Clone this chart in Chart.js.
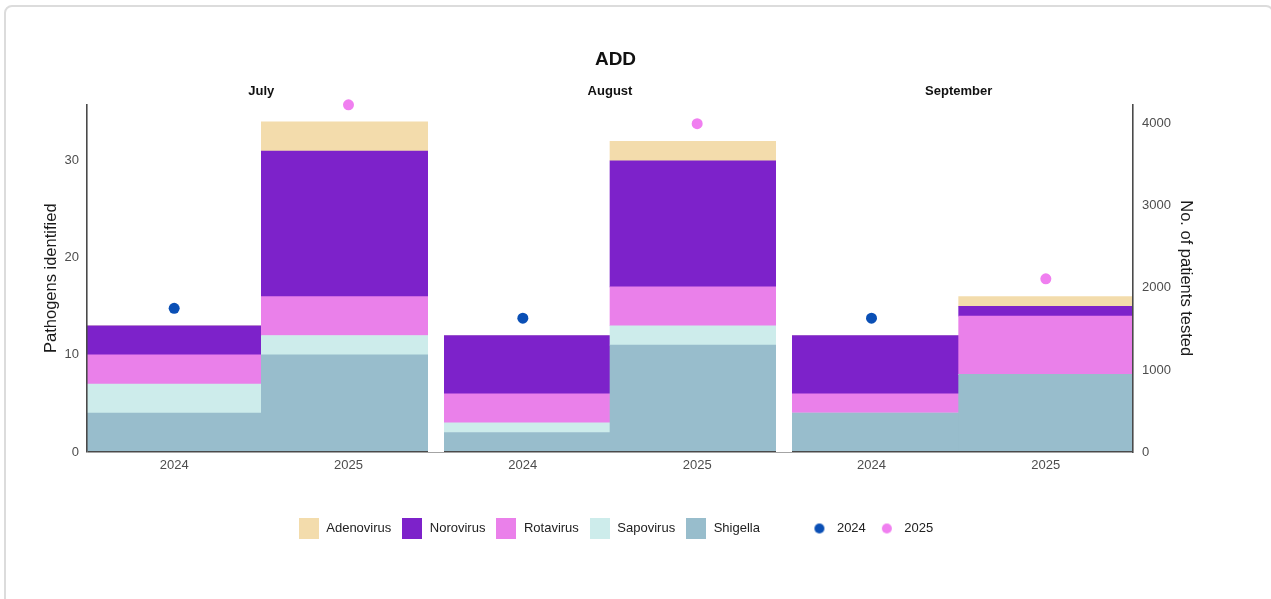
<!DOCTYPE html>
<html>
<head>
<meta charset="utf-8">
<title>ADD</title>
<script src="https://cdn.jsdelivr.net/npm/chart.js@4"></script>
<style>
    html, body { margin: 0; padding: 0; background: #fff; overflow: hidden; }
    .card {
        position: absolute; left: 4px; top: 5px;
        width: 1270px; height: 620px;
        border: 2px solid #dcdcdc; border-radius: 8px;
        box-sizing: border-box;
    }
    .wrap { position: absolute; left: 0; top: 0; width: 1271px; height: 599px; }
    #addChart { display: block; width: 1271px; height: 599px; }
</style>
</head>
<body>
<div class="card"></div>
<div class="wrap"><canvas id="addChart" width="1271" height="599"></canvas></div>
<script>
// --- Data (order of bars: July 2024, July 2025, Aug 2024, Aug 2025, Sep 2024, Sep 2025) ---
const months = ['July', 'August', 'September'];
const years = ['2024', '2025', '2024', '2025', '2024', '2025'];

const adenovirus = [0, 3, 0, 2, 0, 1];
const norovirus  = [3, 15, 6, 13, 6, 1];
const rotavirus  = [3, 4, 3, 4, 2, 6];
const sapovirus  = [3, 2, 1, 2, 0, 0];
const shigella   = [4, 10, 2, 11, 4, 8];

// patients tested, one value per month
const tested2024 = [1750, 1630, 1630];
const tested2025 = [4230, 4000, 2110];

// tick labels
const pathogenTicks = [0, 10, 20, 30];
const patientTicks = [0, 1000, 2000, 3000, 4000];

const colors = {
    adenovirus: '#f3dcac',
    norovirus: '#7d22ca',
    rotavirus: '#ea80ea',
    sapovirus: '#cdeceb',
    shigella: '#98bdcc',
    y2024: '#0a4fb5',
    y2025: '#f07ff0',
    axis: '#4a4a4a',
    tick: '#4d4d4d'
};

const FONT = '"Liberation Sans", Arial, Helvetica, sans-serif';

// spread the monthly values over the year slots
const slot2024 = years.map((y, i) => y === '2024' ? tested2024[Math.floor(i / 2)] : null);
const slot2025 = years.map((y, i) => y === '2025' ? tested2025[Math.floor(i / 2)] : null);

// little legend icons
function boxIcon(color) {
    const c = document.createElement('canvas');
    c.width = 20; c.height = 21;
    const g = c.getContext('2d');
    g.fillStyle = color;
    g.fillRect(0, 0, 20, 21);
    return c;
}
function dotIcon(color) {
    const c = document.createElement('canvas');
    c.width = 12; c.height = 12;
    const g = c.getContext('2d');
    g.fillStyle = color;
    g.beginPath();
    g.arc(6, 6, 5, 0, Math.PI * 2);
    g.fill();
    return c;
}
const blankIcon = document.createElement('canvas');
blankIcon.width = 1; blankIcon.height = 1;

function barSet(label, data, color, order) {
    return {
        type: 'bar',
        label: label,
        data: data,
        backgroundColor: color,
        borderWidth: 0,
        barPercentage: 1,
        categoryPercentage: 1,
        stack: 'pathogens',
        yAxisID: 'y',
        order: order
    };
}
function dotSet(label, data, color) {
    return {
        type: 'line',
        label: label,
        data: data,
        showLine: false,
        backgroundColor: color,
        borderColor: color,
        pointRadius: 5.5,
        pointHoverRadius: 6.5,
        pointBorderWidth: 0,
        yAxisID: 'y1',
        clip: false,
        order: 0
    };
}

const ctx = document.getElementById('addChart').getContext('2d');

new Chart(ctx, {
    data: {
        labels: years,
        datasets: [
            barSet('Adenovirus', adenovirus, colors.adenovirus, 5),
            barSet('Norovirus', norovirus, colors.norovirus, 4),
            barSet('Rotavirus', rotavirus, colors.rotavirus, 3),
            barSet('Sapovirus', sapovirus, colors.sapovirus, 2),
            barSet('Shigella', shigella, colors.shigella, 1),
            dotSet('2024', slot2024, colors.y2024),
            dotSet('2025', slot2025, colors.y2025)
        ]
    },
    options: {
        responsive: false,
        animation: false,
        layout: { padding: { top: 37, left: 30, right: 70, bottom: 54 } },
        font: { family: FONT },
        scales: {
            x: {
                type: 'category',
                position: 'bottom',
                stacked: true,
                offset: true,
                // white gaps between the month panels, drawn over the bars
                grid: {
                    display: true,
                    drawTicks: false,
                    offset: true,
                    color: '#ffffff',
                    lineWidth: (c) => (c.index === 2 || c.index === 4) ? 16 : 0,
                    z: 2
                },
                border: { display: false },
                ticks: { color: colors.tick, font: { family: FONT, size: 13 }, padding: 6, maxRotation: 0 },
                afterFit: (scale) => { scale.height = 60; }
            },
            xTop: {
                type: 'category',
                position: 'top',
                labels: months,
                offset: true,
                grid: { display: false, drawTicks: false },
                border: { display: false },
                ticks: { color: '#111', font: { family: FONT, size: 13, weight: 'bold' }, padding: 5, maxRotation: 0 }
            },
            y: {
                type: 'linear',
                position: 'left',
                stacked: true,
                min: 0,
                max: 35.8,
                // only the zero line is drawn: it is the bottom axis line
                grid: {
                    display: true,
                    drawTicks: false,
                    color: (c) => c.tick && c.tick.value === 0 ? colors.axis : 'transparent',
                    lineWidth: 1.6,
                    z: 1
                },
                border: { display: true, color: colors.axis, width: 1.6, z: 1 },
                afterBuildTicks: (scale) => { scale.ticks = pathogenTicks.map(v => ({ value: v })); },
                ticks: { color: colors.tick, font: { family: FONT, size: 13 }, padding: 8 },
                title: {
                    display: true,
                    text: 'Pathogens identified',
                    color: '#1a1a1a',
                    font: { family: FONT, size: 16.5 },
                    padding: { top: 12, bottom: 2 }
                },
                afterFit: (scale) => { scale.width = 57; }
            },
            y1: {
                type: 'linear',
                position: 'right',
                min: 0,
                max: 4235,
                grid: { display: false, drawTicks: false },
                border: { display: true, color: colors.axis, width: 1.6, z: 1 },
                afterBuildTicks: (scale) => { scale.ticks = patientTicks.map(v => ({ value: v })); },
                ticks: {
                    color: colors.tick,
                    font: { family: FONT, size: 13 },
                    padding: 9,
                    callback: (v) => String(v)
                },
                title: {
                    display: true,
                    text: 'No. of patients tested',
                    color: '#1a1a1a',
                    font: { family: FONT, size: 16.5 },
                    padding: { top: 6, bottom: 4 }
                },
                afterFit: (scale) => { scale.width = 68; }
            }
        },
        plugins: {
            title: {
                display: true,
                text: 'ADD',
                color: '#111',
                font: { family: FONT, size: 19, weight: 'bold' },
                padding: { top: 11, bottom: 8 }
            },
            legend: {
                position: 'bottom',
                labels: {
                    usePointStyle: true,
                    pointStyleWidth: 22,
                    padding: 10,
                    color: '#222',
                    font: { family: FONT, size: 13 },
                    generateLabels: (chart) => {
                        const items = chart.data.datasets.map((ds, i) => ({
                            text: ds.label,
                            pointStyle: ds.type === 'line' ? dotIcon(ds.backgroundColor) : boxIcon(ds.backgroundColor),
                            fillStyle: ds.backgroundColor,
                            strokeStyle: 'transparent',
                            lineWidth: 0,
                            fontColor: '#222',
                            hidden: !chart.isDatasetVisible(i),
                            datasetIndex: i
                        }));
                        // extra room before the year dots
                        const firstDot = chart.data.datasets.findIndex(ds => ds.type === 'line');
                        items.splice(firstDot, 0, {
                            text: '', pointStyle: blankIcon, fillStyle: 'transparent',
                            strokeStyle: 'transparent', lineWidth: 0, hidden: false
                        });
                        return items;
                    }
                },
                onClick: (e, item, legend) => {
                    if (item.datasetIndex === undefined) return;
                    Chart.defaults.plugins.legend.onClick(e, item, legend);
                }
            },
            tooltip: { enabled: true }
        }
    }
});
</script>
</body>
</html>
